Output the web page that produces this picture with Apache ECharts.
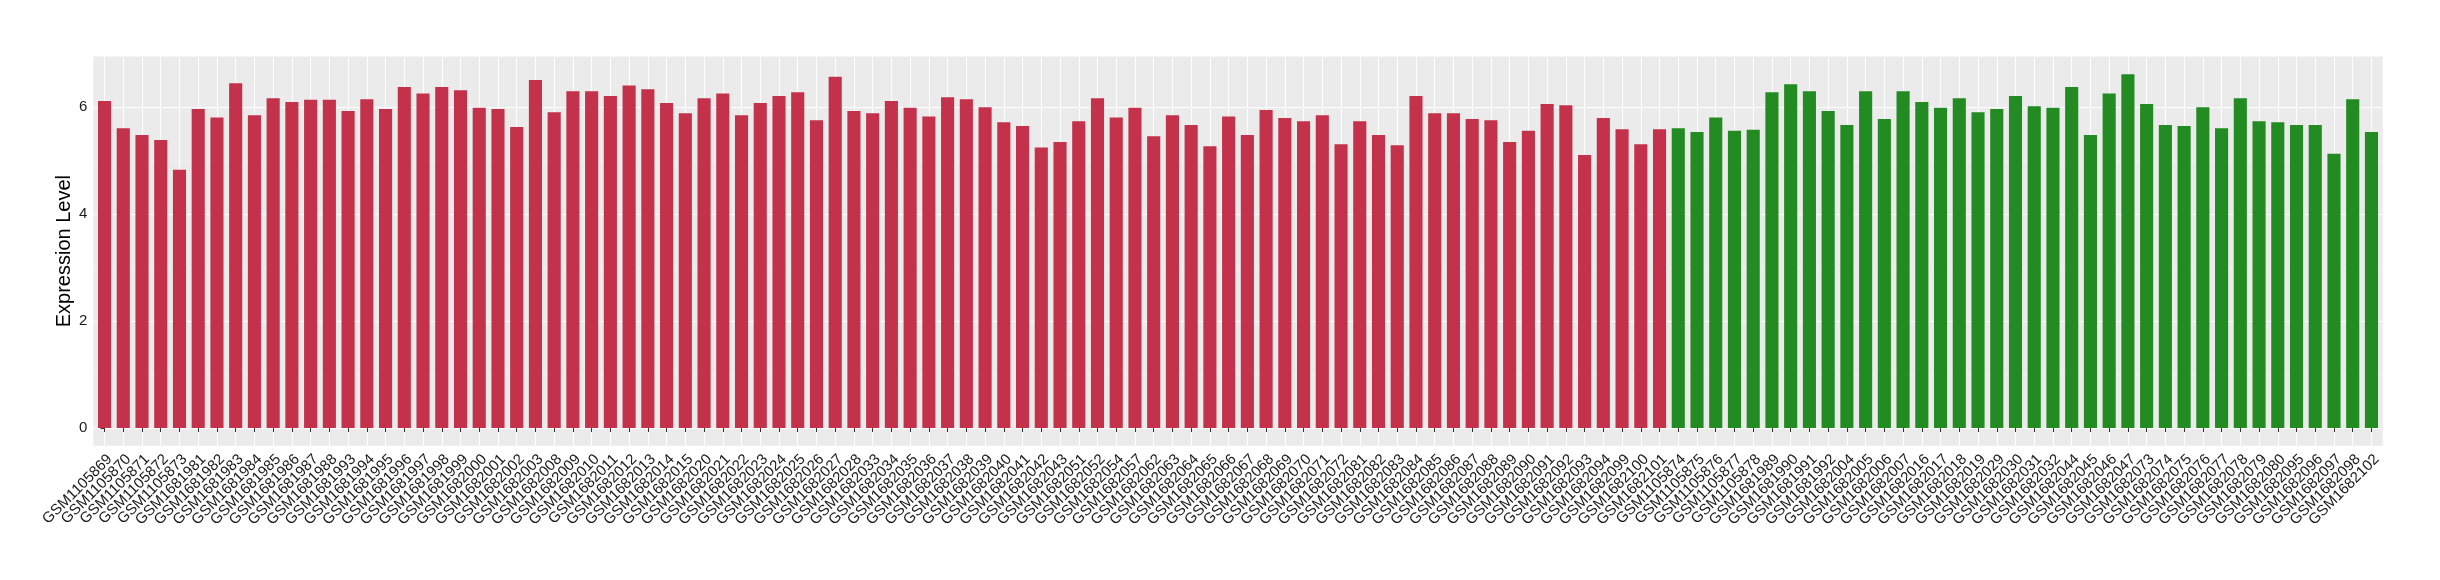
<!DOCTYPE html>
<html><head><meta charset="utf-8">
<script src="https://cdn.jsdelivr.net/npm/echarts@6/dist/echarts.min.js"></script>
<style>html,body{margin:0;padding:0;background:#fff}#chart{width:2440px;height:580px}</style>
</head><body><div id="chart"></div>
<script>
const redSamples = ['GSM1105869','GSM1105870','GSM1105871','GSM1105872','GSM1105873','GSM1681981','GSM1681982','GSM1681983','GSM1681984','GSM1681985',
'GSM1681986','GSM1681987','GSM1681988','GSM1681993','GSM1681994','GSM1681995','GSM1681996','GSM1681997','GSM1681998','GSM1681999',
'GSM1682000','GSM1682001','GSM1682002','GSM1682003','GSM1682008','GSM1682009','GSM1682010','GSM1682011','GSM1682012','GSM1682013',
'GSM1682014','GSM1682015','GSM1682020','GSM1682021','GSM1682022','GSM1682023','GSM1682024','GSM1682025','GSM1682026','GSM1682027',
'GSM1682028','GSM1682033','GSM1682034','GSM1682035','GSM1682036','GSM1682037','GSM1682038','GSM1682039','GSM1682040','GSM1682041',
'GSM1682042','GSM1682043','GSM1682051','GSM1682052','GSM1682054','GSM1682057','GSM1682062','GSM1682063','GSM1682064','GSM1682065',
'GSM1682066','GSM1682067','GSM1682068','GSM1682069','GSM1682070','GSM1682071','GSM1682072','GSM1682081','GSM1682082','GSM1682083',
'GSM1682084','GSM1682085','GSM1682086','GSM1682087','GSM1682088','GSM1682089','GSM1682090','GSM1682091','GSM1682092','GSM1682093',
'GSM1682094','GSM1682099','GSM1682100','GSM1682101'];
const redValues = [6.12,5.61,5.48,5.39,4.83,5.97,5.81,6.45,5.85,6.17,
6.10,6.14,6.14,5.93,6.15,5.97,6.38,6.26,6.38,6.32,
5.99,5.97,5.63,6.51,5.91,6.30,6.30,6.21,6.41,6.34,
6.08,5.89,6.17,6.26,5.85,6.08,6.21,6.28,5.76,6.57,
5.93,5.89,6.12,5.99,5.83,6.19,6.15,6.00,5.72,5.65,
5.25,5.35,5.74,6.17,5.81,5.99,5.46,5.85,5.67,5.27,
5.83,5.48,5.95,5.80,5.74,5.85,5.31,5.74,5.48,5.29,
6.21,5.89,5.89,5.78,5.76,5.35,5.56,6.06,6.04,5.11,
5.80,5.59,5.31,5.59];
const greenSamples = ['GSM1105874','GSM1105875','GSM1105876','GSM1105877','GSM1105878','GSM1681989','GSM1681990','GSM1681991','GSM1681992','GSM1682004',
'GSM1682005','GSM1682006','GSM1682007','GSM1682016','GSM1682017','GSM1682018','GSM1682019','GSM1682029','GSM1682030','GSM1682031',
'GSM1682032','GSM1682044','GSM1682045','GSM1682046','GSM1682047','GSM1682073','GSM1682074','GSM1682075','GSM1682076','GSM1682077',
'GSM1682078','GSM1682079','GSM1682080','GSM1682095','GSM1682096','GSM1682097','GSM1682098','GSM1682102'];
const greenValues = [5.61,5.54,5.81,5.56,5.58,6.28,6.43,6.30,5.93,5.67,
6.30,5.78,6.30,6.10,5.99,6.17,5.91,5.97,6.21,6.02,
5.99,6.38,5.48,6.26,6.62,6.06,5.67,5.65,6.00,5.61,
6.17,5.74,5.72,5.67,5.67,5.13,6.15,5.54];
const yMajorTicks = [0, 2, 4, 6];
const yMinorTicks = [1, 3, 5];
const yTitle = 'Expression Level';
const redColor = '#C3314A';
const greenColor = '#228B22';

// Build the library data from the arrays above
const categories = redSamples.concat(greenSamples);
const barData = redValues.map((v, i) => ({value: [i, v], itemStyle: {color: redColor}}))
  .concat(greenValues.map((v, i) => ({value: [redValues.length + i, v], itemStyle: {color: greenColor}})));
const allVals = redValues.concat(greenValues);
const vmax = Math.max.apply(null, allVals);
const yMin = -0.05 * vmax, yMax = vmax * 1.05;          // ggplot continuous expansion
const xPad = 0.6;                                        // ggplot discrete expansion
const xMin = -xPad, xMax = categories.length - 1 + xPad;
const centerTicks = categories.map((c, i) => i);

// panel geometry
const W = 2440, G = {left: 93.3, right: 57.3, top: 56.5, bottom: 134.3};
const unit = (W - G.left - G.right) / (xMax - xMin);
const inset = (xPad - 0.5) * unit;   // so a category band axis lines up with the value axis

const chart = echarts.init(document.getElementById('chart'), null, {renderer: 'canvas'});
chart.setOption({
  backgroundColor: '#ffffff',
  animation: false,
  textStyle: {fontFamily: 'Liberation Sans, Arial, sans-serif'},
  grid: [
    {left: G.left, right: G.right, top: G.top, bottom: G.bottom, show: true, backgroundColor: '#EBEBEB', borderWidth: 0},
    {left: G.left + inset, right: G.right + inset, top: G.top, bottom: G.bottom, show: false}
  ],
  xAxis: [{
    type: 'value', min: xMin, max: xMax, gridIndex: 0,
    axisLine: {show: false},
    axisTick: {show: true, length: 4, customValues: centerTicks, lineStyle: {color: '#333333', width: 1}},
    axisLabel: {show: false},
    splitLine: {show: true, lineStyle: {color: '#FFFFFF', width: 1.1}}
  }, {
    type: 'category', data: categories, boundaryGap: true, gridIndex: 1,
    axisLine: {show: false}, axisTick: {show: false}, splitLine: {show: false},
    axisLabel: {show: true, interval: 0, rotate: 45, margin: 6, fontSize: 15, color: '#1A1A1A',
      align: 'right', verticalAlign: 'top', fontFamily: 'Liberation Sans'}
  }],
  yAxis: [{
    type: 'value', min: yMin, max: yMax, gridIndex: 0,
    name: yTitle, nameLocation: 'middle', nameGap: 19, nameRotate: 90, nameMoveOverlap: false,
    nameTextStyle: {fontSize: 20, color: '#000000', fontFamily: 'Liberation Sans'},
    axisLine: {show: false},
    axisTick: {show: true, length: 4, customValues: yMajorTicks, lineStyle: {color: '#333333', width: 1}},
    axisLabel: {show: true, margin: 6, fontSize: 15, color: '#1A1A1A', customValues: yMajorTicks, fontFamily: 'Liberation Sans'},
    splitLine: {show: true, lineStyle: {color: '#FFFFFF', width: 1.1}}
  }, {
    type: 'value', min: yMin, max: yMax, position: 'left', gridIndex: 0,
    axisLine: {show: false}, axisLabel: {show: false},
    axisTick: {show: false, customValues: yMinorTicks},
    splitLine: {show: true, lineStyle: {color: '#F5F5F5', width: 0.6}}
  }, {
    type: 'value', min: yMin, max: yMax, gridIndex: 1, show: false
  }],
  series: [{
    type: 'bar', data: barData, xAxisIndex: 0, yAxisIndex: 0,
    barWidth: '70%'
  }]
});
</script></body></html>
